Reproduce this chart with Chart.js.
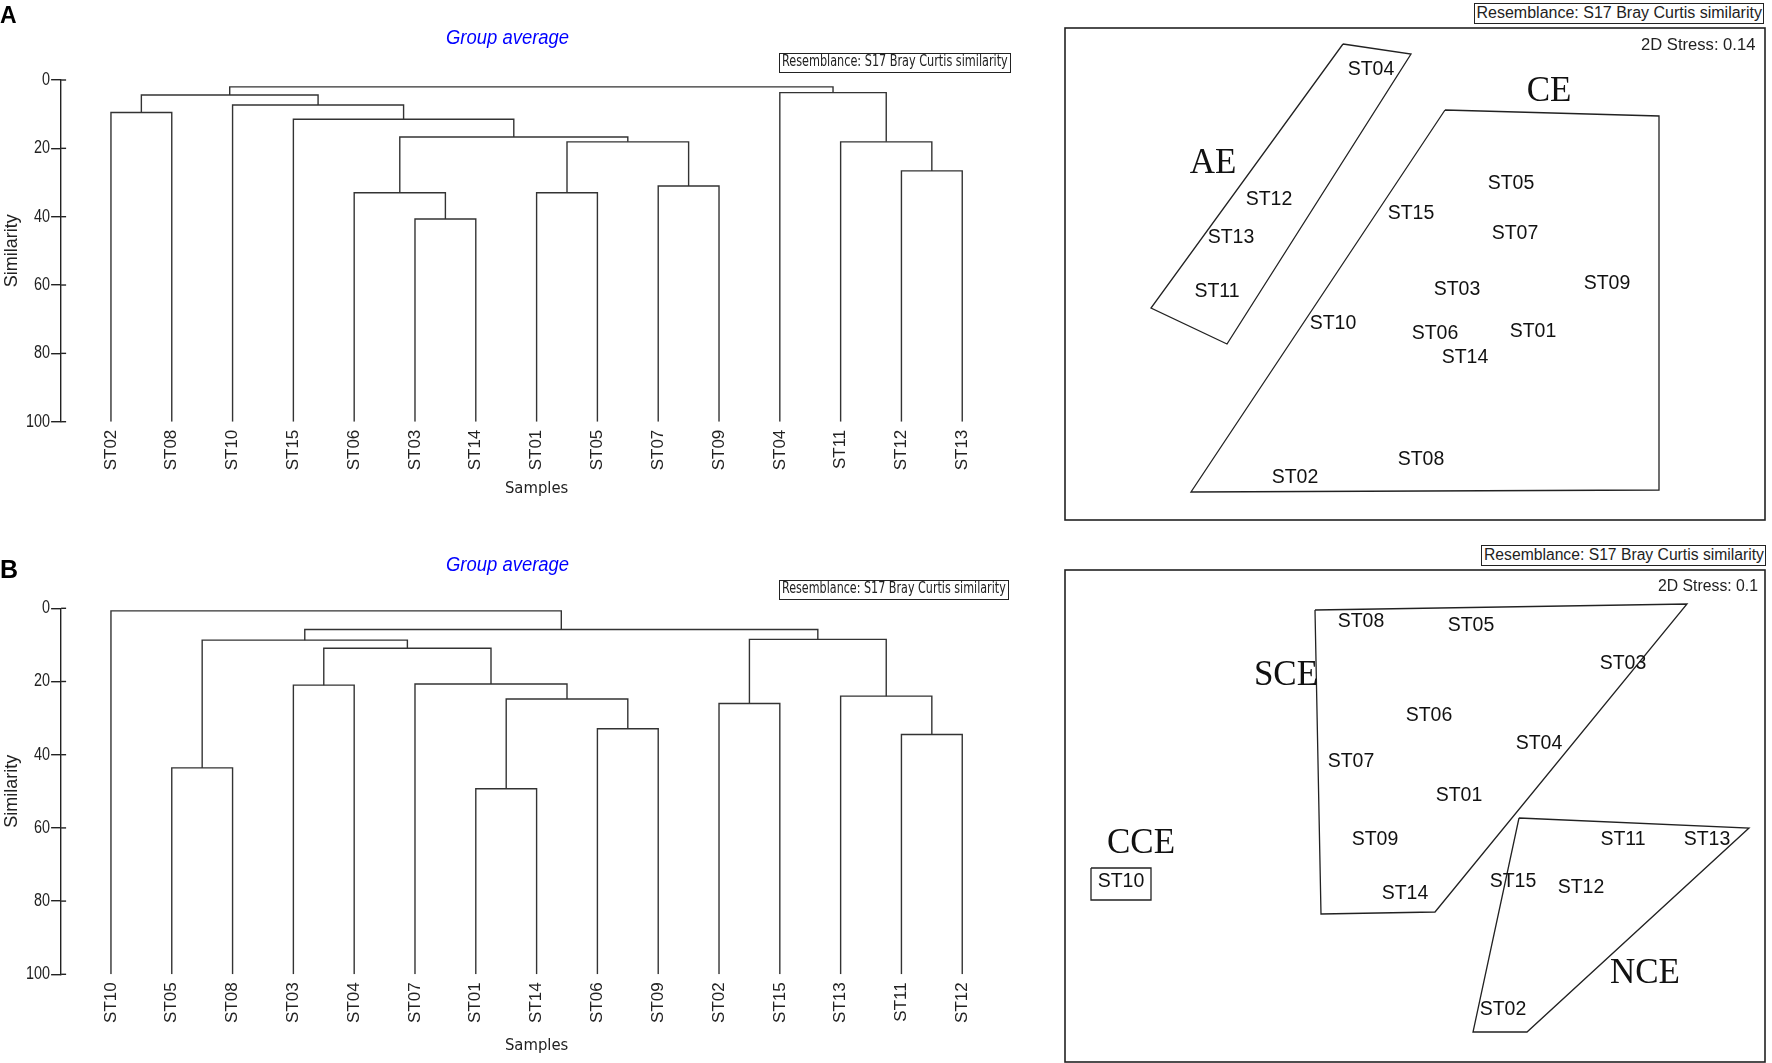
<!DOCTYPE html>
<html>
<head>
<meta charset="utf-8">
<script src="https://cdn.jsdelivr.net/npm/chart.js@4.4.1/dist/chart.umd.min.js"></script>
<style>
  body { margin: 0; background: #fff; }
  #page { position: relative; width: 1772px; height: 1063px; overflow: hidden; background: #fff; }
  canvas { position: absolute; }
  .txt { position: absolute; white-space: nowrap; transform-origin: 0 0; }
  .box { position: absolute; border: 1.3px solid #222; box-sizing: border-box; }
</style>
</head>
<body>
<div id="page">
  <canvas id="dendroA" width="1030" height="505" style="left:0;top:0"></canvas>
  <canvas id="dendroB" width="1030" height="523" style="left:0;top:540px"></canvas>
  <canvas id="mdsA" width="704" height="496" style="left:1063px;top:26px"></canvas>
  <canvas id="mdsB" width="704" height="496" style="left:1063px;top:568px"></canvas>
</div>
<script>
// ---- Cluster A (group average, Bray Curtis similarity) ----
const leavesA = ['ST02', 'ST08', 'ST10', 'ST15', 'ST06', 'ST03', 'ST14', 'ST01', 'ST05', 'ST07', 'ST09', 'ST04', 'ST11', 'ST12', 'ST13'];
// each merge joins two samples or earlier merges (m0, m1, ...)
const mergesA = [['ST03', 'ST14'], ['ST06', 'm0'], ['ST01', 'ST05'], ['ST07', 'ST09'], ['m2', 'm3'], ['m1', 'm4'], ['ST15', 'm5'],
  ['ST10', 'm6'], ['ST02', 'ST08'], ['m8', 'm7'], ['ST12', 'ST13'], ['ST11', 'm10'], ['ST04', 'm11'], ['m9', 'm12']];
const simA = [40.7, 33.0, 33.0, 31.0, 18.1, 16.7, 11.5, 7.3, 9.5, 4.4, 26.6, 18.1, 3.7, 2.0];

// ---- Cluster B ----
const leavesB = ['ST10', 'ST05', 'ST08', 'ST03', 'ST04', 'ST07', 'ST01', 'ST14', 'ST06', 'ST09', 'ST02', 'ST15', 'ST13', 'ST11', 'ST12'];
const mergesB = [['ST01', 'ST14'], ['ST05', 'ST08'], ['ST11', 'ST12'], ['ST06', 'ST09'], ['ST02', 'ST15'], ['m0', 'm3'], ['ST13', 'm2'],
  ['ST03', 'ST04'], ['ST07', 'm5'], ['m7', 'm8'], ['m1', 'm9'], ['m4', 'm6'], ['m10', 'm11'], ['ST10', 'm12']];
const simB = [49.3, 43.6, 34.5, 32.9, 26.0, 24.8, 24.0, 21.0, 20.7, 10.9, 8.7, 8.5, 5.8, 0.7];

const simTicks = [0, 20, 40, 60, 80, 100];

// ---- nMDS ordinations ----
const stations = ['ST01', 'ST02', 'ST03', 'ST04', 'ST05', 'ST06', 'ST07', 'ST08', 'ST09', 'ST10', 'ST11', 'ST12', 'ST13', 'ST14', 'ST15'];
const mdsAx = [0.59, -0.60, 0.21, -0.22, 0.48, 0.10, 0.50, 0.03, 0.96, -0.41, -0.99, -0.73, -0.92, 0.25, -0.02];
const mdsAy = [-0.29, -1.02, -0.08, 1.02, 0.45, -0.30, 0.20, -0.93, -0.05, -0.25, -0.09, 0.37, 0.18, -0.42, 0.30];
const mdsBx = [0.22, 0.44, 1.04, 0.62, 0.28, 0.07, -0.32, -0.27, -0.20, -1.47, 1.04, 0.83, 1.46, -0.05, 0.49];
const mdsBy = [0.10, -0.97, 0.76, 0.36, 0.95, 0.50, 0.27, 0.97, -0.12, -0.33, -0.12, -0.36, -0.12, -0.39, -0.33];

// group outlines drawn on the ordinations
const hullAE_x = [-0.36, -0.02, -0.94, -1.32];
const hullAE_y = [1.15, 1.10, -0.35, -0.17];
const hullCE_x = [0.15, 1.22, 1.22, -1.12];
const hullCE_y = [0.82, 0.79, -1.08, -1.09];
const hullSCE_x = [-0.50, 1.36, 0.10, -0.47];
const hullSCE_y = [1.03, 1.06, -0.48, -0.49];
const hullNCE_x = [0.52, 1.67, 0.56, 0.29];
const hullNCE_y = [-0.01, -0.06, -1.08, -1.08];
const hullCCE_x = [-1.62, -1.32, -1.32, -1.62];
const hullCCE_y = [-0.26, -0.26, -0.42, -0.42];

const groupsA = ['AE', 'CE'];
const groupAx = [-1.01, 0.67];
const groupAy = [0.55, 0.91];
const groupsB = ['SCE', 'CCE', 'NCE'];
const groupBx = [-0.645, -1.37, 1.15];
const groupBy = [0.70, -0.14, -0.79];

const NARROW = "'Liberation Sans Narrow', 'Arial Narrow', 'DejaVu Sans Condensed', sans-serif";
const SANS = "'Liberation Sans', Arial, sans-serif";
const SERIF = "'Liberation Serif', 'Times New Roman', serif";
const INK = '#222';

// text labels for point datasets
const nameLabels = {
  id: 'nameLabels',
  afterDatasetsDraw(chart) {
    const ctx = chart.ctx;
    chart.data.datasets.forEach((ds, i) => {
      if (!ds.names) return;
      const meta = chart.getDatasetMeta(i);
      ctx.save();
      ctx.font = ds.nameFont;
      ctx.fillStyle = '#111';
      ctx.textAlign = 'center';
      ctx.textBaseline = 'middle';
      meta.data.forEach((pt, j) => ctx.fillText(ds.names[j], pt.x, pt.y));
      ctx.restore();
    });
  }
};

// plot frame round the ordination
const frame = {
  id: 'frame',
  afterDraw(chart) {
    const {left, top, width, height} = chart.chartArea;
    const ctx = chart.ctx;
    ctx.save();
    ctx.strokeStyle = INK;
    ctx.lineWidth = 1.6;
    ctx.strokeRect(left, top, width, height);
    ctx.restore();
  }
};

// similarity axis: stubs on the inner side and condensed tick numbers
const simAxis = {
  id: 'simAxis',
  afterDraw(chart) {
    const y = chart.scales.y;
    const ctx = chart.ctx;
    ctx.save();
    ctx.strokeStyle = INK;
    ctx.fillStyle = INK;
    ctx.lineWidth = 1.4;
    ctx.font = `18px ${SANS}`;
    ctx.textAlign = 'right';
    ctx.textBaseline = 'middle';
    y.ticks.forEach(t => {
      const py = y.getPixelForValue(t.value);
      ctx.beginPath();
      ctx.moveTo(y.right, py);
      ctx.lineTo(y.right + 5, py);
      ctx.stroke();
      ctx.save();
      ctx.translate(y.right - 11, py);
      ctx.scale(0.8, 1);
      ctx.fillText(String(t.value), 0, 0);
      ctx.restore();
    });
    ctx.restore();
  }
};

function treeSegments(leaves, merges, sims) {
  const pos = {};
  leaves.forEach((n, i) => { pos[n] = {x: i, y: 100}; });
  return merges.map((pair, k) => {
    const a = pos[pair[0]], b = pos[pair[1]];
    pos['m' + k] = {x: (a.x + b.x) / 2, y: sims[k]};
    return {
      data: [{x: a.x, y: a.y}, {x: a.x, y: sims[k]}, {x: b.x, y: sims[k]}, {x: b.x, y: b.y}],
      showLine: true, borderColor: '#333', borderWidth: 1.4, pointRadius: 0, fill: false
    };
  });
}

function dendrogram(id, leaves, merges, sims, padTop, xHeight, titlePad) {
  return new Chart(document.getElementById(id), {
    type: 'scatter',
    data: {datasets: treeSegments(leaves, merges, sims)},
    plugins: [simAxis],
    options: {
      responsive: false,
      animation: false,
      layout: {padding: {top: padTop, right: 17.9, left: 0, bottom: 0}},
      plugins: {legend: {display: false}, tooltip: {enabled: false}},
      scales: {
        x: {
          type: 'linear', min: -0.82, max: 14.82,
          afterBuildTicks: s => { s.ticks = leaves.map((_, i) => ({value: i})); },
          afterFit: s => { s.height = xHeight; },
          grid: {display: false, drawTicks: false},
          border: {display: false},
          ticks: {
            autoSkip: false, minRotation: 90, maxRotation: 90, padding: 8,
            color: INK, font: {family: SANS, size: 17},
            callback: (v, i) => leaves[i]
          },
          title: {display: true, text: 'Samples', color: INK, font: {family: NARROW, size: 16.5}, padding: {top: 0, bottom: titlePad}}
        },
        y: {
          type: 'linear', reverse: true, min: 0, max: 100,
          afterBuildTicks: s => { s.ticks = simTicks.map(v => ({value: v})); },
          afterFit: s => { s.width = 61.1; },
          grid: {display: true, drawOnChartArea: false, drawTicks: true, tickLength: 10, color: INK, lineWidth: 1.4},
          border: {display: true, color: INK, width: 1.4},
          ticks: {display: false},
          title: {display: true, text: 'Similarity', color: INK, font: {family: SANS, size: 18}, padding: {top: 1, bottom: 0}}
        }
      }
    }
  });
}

function hull(xs, ys) {
  const pts = xs.map((x, i) => ({x, y: ys[i]}));
  pts.push(pts[0]);
  return {data: pts, showLine: true, borderColor: INK, borderWidth: 1.3, pointRadius: 0, fill: false};
}

function ordination(id, xs, ys, hulls, groups, gx, gy) {
  const datasets = hulls.map(h => hull(h[0], h[1]));
  datasets.push({
    data: stations.map((s, i) => ({x: xs[i], y: ys[i]})),
    names: stations, nameFont: `19.5px ${SANS}`, pointRadius: 0
  });
  datasets.push({
    data: groups.map((g, i) => ({x: gx[i], y: gy[i]})),
    names: groups, nameFont: `35px ${SERIF}`, pointRadius: 0
  });
  return new Chart(document.getElementById(id), {
    type: 'scatter',
    data: {datasets},
    plugins: [nameLabels, frame],
    options: {
      responsive: false,
      animation: false,
      layout: {padding: 2},
      plugins: {legend: {display: false}, tooltip: {enabled: false}},
      scales: {
        x: {type: 'linear', min: -1.75, max: 1.75, display: false},
        y: {type: 'linear', min: -1.23, max: 1.23, display: false}
      }
    }
  });
}

dendrogram('dendroA', leavesA, mergesA, simA, 80, 83.3, 6.2);
dendrogram('dendroB', leavesB, mergesB, simB, 68.3, 88.7, 7.2);
ordination('mdsA', mdsAx, mdsAy, [[hullAE_x, hullAE_y], [hullCE_x, hullCE_y]], groupsA, groupAx, groupAy);
ordination('mdsB', mdsBx, mdsBy, [[hullSCE_x, hullSCE_y], [hullNCE_x, hullNCE_y], [hullCCE_x, hullCCE_y]], groupsB, groupBx, groupBy);

// ---- annotations ----
const page = document.getElementById('page');
function addText(text, o) {
  const el = document.createElement('div');
  el.className = 'txt';
  el.textContent = text;
  el.style.font = `${o.style || ''} ${o.size}px ${o.family}`;
  el.style.lineHeight = '1';
  el.style.color = o.color || INK;
  page.appendChild(el);
  const w = el.offsetWidth;
  const sx = o.w ? o.w / w : 1;
  let left = o.x;
  if (o.align === 'right') left = o.x - w * sx;
  el.style.left = left + 'px';
  el.style.top = (o.base - 0.8465 * o.size) + 'px';
  el.style.transform = `scaleX(${sx})`;
}
function addBox(l, t, w, h) {
  const b = document.createElement('div');
  b.className = 'box';
  Object.assign(b.style, {left: l + 'px', top: t + 'px', width: w + 'px', height: h + 'px'});
  page.appendChild(b);
}

addText('A', {x: 0, base: 23, size: 23, family: SANS, style: 'bold', color: '#000'});
addText('B', {x: 0, base: 578, size: 25, family: SANS, style: 'bold', color: '#000'});
addText('Group average', {x: 446, base: 45, size: 19.5, family: SANS, style: 'italic', color: '#0000ff', w: 123});
addText('Group average', {x: 446, base: 572, size: 19.5, family: SANS, style: 'italic', color: '#0000ff', w: 123});

const resemblance = 'Resemblance: S17 Bray Curtis similarity';
addBox(779, 53, 232, 19.5);
addText(resemblance, {x: 782, base: 67.5, size: 15.5, family: NARROW, w: 226});
addBox(779, 580, 230, 20);
addText(resemblance, {x: 782, base: 594.5, size: 15.5, family: NARROW, w: 224});
addBox(1474, 3, 290, 21);
addText(resemblance, {x: 1476.5, base: 19, size: 16, family: SANS, w: 285});
addBox(1481, 545, 285, 20.5);
addText(resemblance, {x: 1483.7, base: 561, size: 16, family: SANS, w: 279.5});

addText('2D Stress: 0.14', {x: 1756, base: 50, size: 16.5, family: SANS, align: 'right', w: 114.7});
addText('2D Stress: 0.1', {x: 1758.6, base: 591, size: 16.5, family: SANS, align: 'right', w: 100.4});
</script>
</body>
</html>
